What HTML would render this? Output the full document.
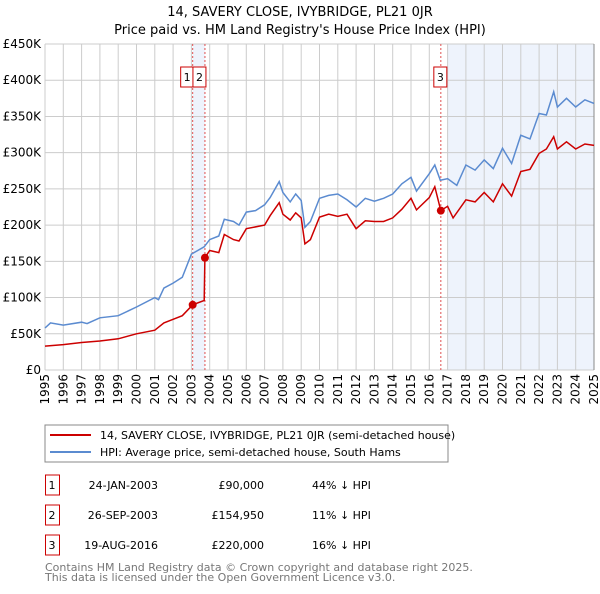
<!DOCTYPE html>
<html><head><meta charset="utf-8"><style>
body{margin:0;width:600px;height:590px;background:#fff;font-family:"DejaVu Sans","Liberation Sans",sans-serif;overflow:hidden}
svg text{font-family:"DejaVu Sans","Liberation Sans",sans-serif}
</style></head><body>
<svg id="chart" width="600" height="590" xmlns="http://www.w3.org/2000/svg">
<text x="300" y="16" text-anchor="middle" font-size="13">14, SAVERY CLOSE, IVYBRIDGE, PL21 0JR</text>
<text x="300" y="34" text-anchor="middle" font-size="13">Price paid vs. HM Land Registry's House Price Index (HPI)</text>
<g id="plot"></g>
<g>
<rect x="45" y="425" width="403" height="37" fill="#fff" stroke="#888"/>
<line x1="50" y1="435" x2="91" y2="435" stroke="#cc0000" stroke-width="2"/>
<text x="100" y="439" font-size="11">14, SAVERY CLOSE, IVYBRIDGE, PL21 0JR (semi-detached house)</text>
<line x1="50" y1="452" x2="91" y2="452" stroke="#5b8bd0" stroke-width="2"/>
<text x="100" y="456" font-size="11">HPI: Average price, semi-detached house, South Hams</text>
</g>
<g id="table"></g>
<text x="45" y="571" font-size="11" fill="#777">Contains HM Land Registry data © Crown copyright and database right 2025.</text>
<text x="45" y="581" font-size="11" fill="#777">This data is licensed under the Open Government Licence v3.0.</text>
</svg>
<script>
const hpiYears=[1995,1995.3,1996,1997,1997.3,1998,1999,2000,2001,2001.2,2001.5,2002,2002.5,2003,2003.7,2004,2004.5,2004.8,2005.3,2005.6,2006,2006.5,2007,2007.3,2007.8,2008,2008.4,2008.7,2009,2009.2,2009.5,2010,2010.5,2011,2011.5,2012,2012.5,2013,2013.5,2014,2014.5,2015,2015.3,2016,2016.3,2016.6,2017,2017.5,2018,2018.5,2019,2019.5,2020,2020.5,2021,2021.5,2022,2022.4,2022.8,2023,2023.5,2024,2024.5,2025];
const hpiValues=[58,65,62,66,64,72,75,87,100,97,113,120,128,160,170,180,185,208,205,200,218,220,228,238,260,245,232,243,234,197,205,237,241,243,235,225,237,233,237,243,257,266,247,271,283,262,264,255,283,276,290,278,306,285,324,319,354,352,384,363,375,363,373,368];
const ppYears=[1995,1996,1997,1998,1999,2000,2001,2001.5,2002,2002.5,2003.07,2003.7,2003.74,2004,2004.5,2004.8,2005.3,2005.6,2006,2007,2007.3,2007.8,2008,2008.4,2008.7,2009,2009.2,2009.5,2010,2010.5,2011,2011.5,2012,2012.5,2013,2013.5,2014,2014.5,2015,2015.3,2016,2016.3,2016.63,2017,2017.3,2018,2018.5,2019,2019.5,2020,2020.5,2021,2021.5,2022,2022.4,2022.8,2023,2023.5,2024,2024.5,2025];
const ppValues=[33,35,38,40,43,50,55,65,70,75,90,96,155,165,162,187,180,178,195,200,213,231,215,207,217,210,174,180,211,215,212,215,195,206,205,205,210,222,237,221,238,253,220,226,210,235,232,245,232,257,240,274,277,299,305,322,305,315,305,312,310];
const saleLabels=["1","2","3"];
const saleYears=[2003.07,2003.74,2016.63];
const salePrices=[90,154.95,220];
const saleDates=["24-JAN-2003","26-SEP-2003","19-AUG-2016"];
const salePriceText=["£90,000","£154,950","£220,000"];
const saleHpiText=["44% ↓ HPI","11% ↓ HPI","16% ↓ HPI"];
const yTicks=[0,50,100,150,200,250,300,350,400,450];
const yTickLabels=["£0","£50K","£100K","£150K","£200K","£250K","£300K","£350K","£400K","£450K"];
const xTicks=[1995,1996,1997,1998,1999,2000,2001,2002,2003,2004,2005,2006,2007,2008,2009,2010,2011,2012,2013,2014,2015,2016,2017,2018,2019,2020,2021,2022,2023,2024,2025];

const X0=45,X1=594,Y0=370,Y1=44;
const sx=y=>X0+(y-1995)/30*(X1-X0);
const sy=v=>Y0-v/450*(Y0-Y1);
const NS="http://www.w3.org/2000/svg";
const plot=document.getElementById('plot');
function mk(tag,attrs,parent){const e=document.createElementNS(NS,tag);for(const k in attrs)e.setAttribute(k,attrs[k]);(parent||plot).appendChild(e);return e;}

let r=mk('rect',{x:sx(saleYears[0]),y:Y1,width:sx(saleYears[1])-sx(saleYears[0]),height:Y0-Y1,fill:'#eef3fc'});


r=mk('rect',{x:sx(2017),y:Y1,width:X1-sx(2017),height:Y0-Y1,fill:'#eef3fc'});



yTicks.forEach((t,i)=>{
 const l=mk('line',{x1:X0,x2:X1,y1:sy(t),y2:sy(t),stroke:'#ccc','stroke-width':1});
 
 
 const tx=mk('text',{x:41,y:sy(t)+4,'text-anchor':'end','font-size':12});
 tx.textContent=yTickLabels[i];
 
 
});
xTicks.forEach(t=>{
 const l=mk('line',{x1:sx(t),x2:sx(t),y1:Y1,y2:Y0,stroke:'#ccc','stroke-width':1});
 
 
 const tx=mk('text',{x:0,y:0,'text-anchor':'end','font-size':12,transform:`translate(${sx(t)+4},374) rotate(-90)`});
 tx.textContent=t;
 
 
});
const ax=mk('line',{x1:X1,x2:X1,y1:Y1,y2:Y0,stroke:'#888','stroke-width':1});



saleYears.forEach((y,i)=>{
 const l=mk('line',{x1:sx(y),x2:sx(y),y1:Y1,y2:Y0,stroke:'#e05050','stroke-width':1,'stroke-dasharray':'2,2'});
 
 
});

function pts(xs,vs){return xs.map((x,i)=>sx(x).toFixed(1)+','+sy(vs[i]).toFixed(1)).join(' ');}
let p=mk('polyline',{points:pts(hpiYears,hpiValues),fill:'none',stroke:'#5b8bd0','stroke-width':1.5});


p=mk('polyline',{points:pts(ppYears,ppValues),fill:'none',stroke:'#cc0000','stroke-width':1.5});



saleYears.forEach((y,i)=>{
 const c=mk('circle',{cx:sx(y),cy:sy(salePrices[i]),r:4,fill:'#cc0000'});
 
 
 const bx=i==0?sx(y)-12:(i==1?sx(y)-12:sx(y)-7);
 const b=mk('rect',{x:bx+(i==1?0:0),y:67,width:13,height:20,fill:'#fff',stroke:'#cc0000'});
 
 
 const t=mk('text',{x:bx+6.5,y:81,'text-anchor':'middle','font-size':11});
 t.textContent=saleLabels[i];
 
 
});

const tb=document.getElementById('table');
saleLabels.forEach((s,i)=>{
 const yy=475+i*30;
 const b=mk('rect',{x:45.5,y:yy,width:14,height:20,fill:'#fff',stroke:'#cc0000'},tb);
 
 
 const cells=[[52,s,'middle'],[158,saleDates[i],'end'],[264,salePriceText[i],'end'],[312,saleHpiText[i],'start']];
 cells.forEach((c,j)=>{
  const t=mk('text',{x:c[0],y:yy+14,'text-anchor':c[2],'font-size':11},tb);
  t.textContent=c[1];
  
  
 });
});
</script>
</body></html>
